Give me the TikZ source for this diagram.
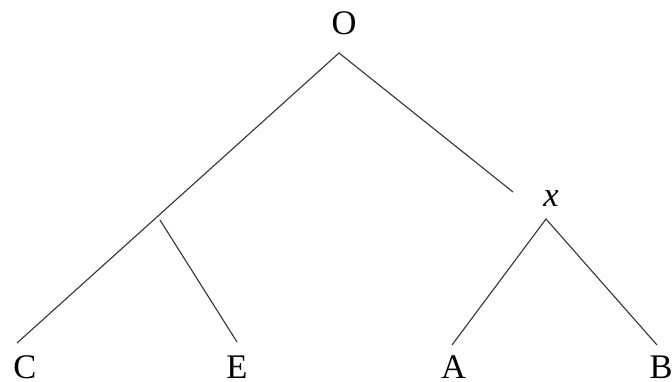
\documentclass[tikz,border=0pt]{standalone}
\usepackage{fontspec}
\setmainfont{Liberation Serif}
\begin{document}
\begin{tikzpicture}[x=1pt,y=-1pt,
  lbl/.style={anchor=base,inner sep=0pt,font=\fontsize{34.5}{40}\selectfont},
  edge/.style={line width=1.1pt,black!80}]
\useasboundingbox (0,0) rectangle (672,382);
\node[lbl] (O) at (344,35) {O};
\node[lbl] (x) at (551,207) {\itshape x};
\node[lbl] (C) at (25,378) {C};
\node[lbl] (E) at (237,378) {E};
\node[lbl] (A) at (453.5,378) {A};
\node[lbl] (B) at (661,378) {B};
\coordinate (o) at (339,53);
\coordinate (ol) at (513,192);
\coordinate (xt) at (546,219);
\coordinate (ce) at (17,343);
\coordinate (j) at (160,220);
\coordinate (ee) at (237,342);
\coordinate (ae) at (452,345);
\coordinate (be) at (657,345);
\draw[edge] (ce) -- (o) -- (ol);
\draw[edge] (j) -- (ee);
\draw[edge] (ae) -- (xt) -- (be);
\end{tikzpicture}
\end{document}
